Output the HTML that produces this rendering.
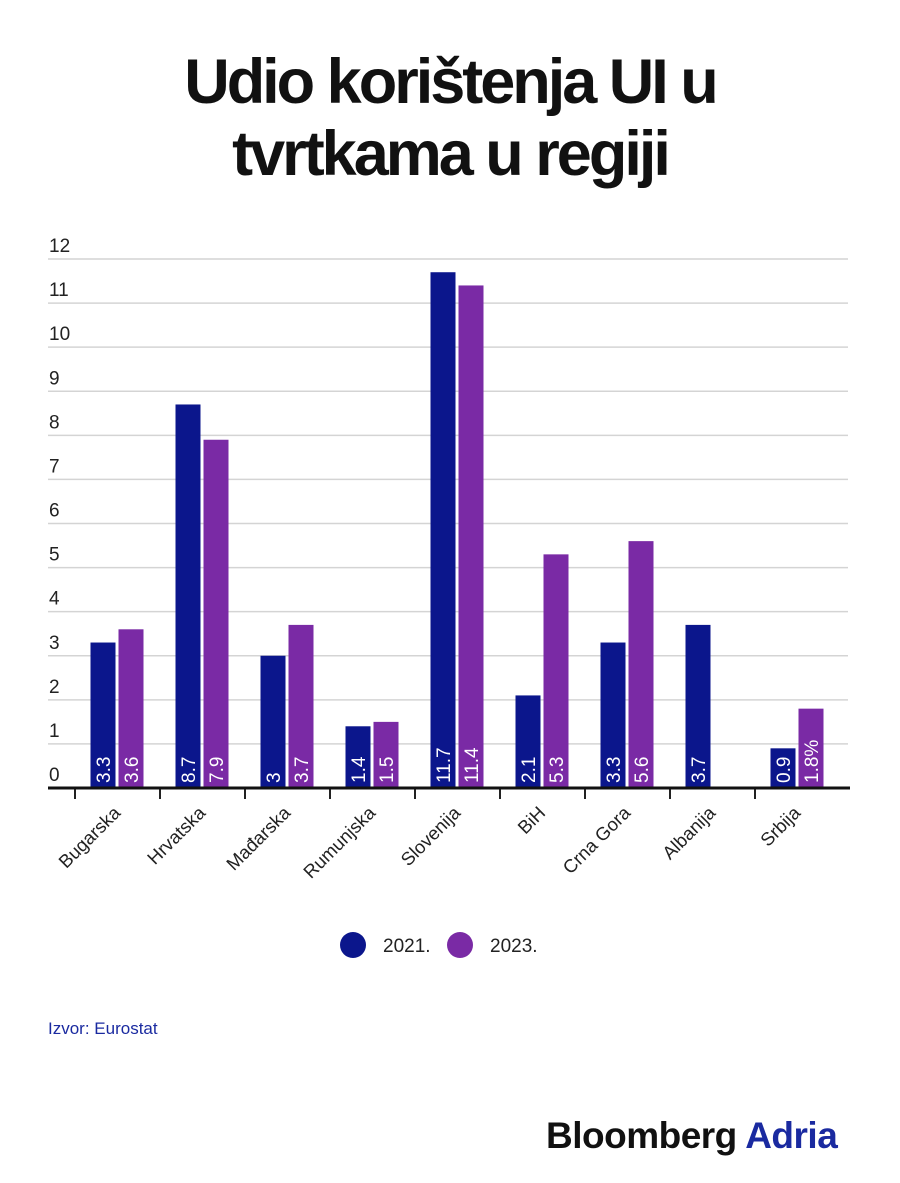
<!DOCTYPE html>
<html><head><meta charset="utf-8"><style>
body{margin:0;background:#fff;width:900px;height:1183px;overflow:hidden;font-family:"Liberation Sans",sans-serif}
h1{position:absolute;left:0;width:900px;top:46px;margin:0;text-align:center;font-size:63px;line-height:72px;font-weight:bold;letter-spacing:-3px;color:#111}
</style></head><body>
<h1>Udio korištenja UI u<br>tvrtkama u regiji</h1>
<svg id="chart" width="900" height="1183" style="position:absolute;left:0;top:0"></svg>
<script>
const categories=["Bugarska","Hrvatska","Mađarska","Rumunjska","Slovenija","BiH","Crna Gora","Albanija","Srbija"];
const values2021=[3.3,8.7,3,1.4,11.7,2.1,3.3,3.7,0.9];
const values2023=[3.6,7.9,3.7,1.5,11.4,5.3,5.6,null,1.8];
const labels2021=["3.3","8.7","3","1.4","11.7","2.1","3.3","3.7","0.9"];
const labels2023=["3.6","7.9","3.7","1.5","11.4","5.3","5.6","","1.8%"];
const yTicks=[0,1,2,3,4,5,6,7,8,9,10,11,12];
const seriesNames=["2021.","2023."];
const C1="#0b168c",C2="#7a2aa5";
const svg=document.getElementById('chart');const NS="http://www.w3.org/2000/svg";
const y0=788,yTop=259,yMax=12;
const y=v=>y0-(v/yMax)*(y0-yTop);
const x0=75,step=85;
const xc=i=>x0+step*(i+0.5);
function mk(t,a,txt){const e=document.createElementNS(NS,t);for(const k in a)e.setAttribute(k,a[k]);if(txt!==undefined)e.textContent=txt;svg.appendChild(e);return e;}
yTicks.forEach(t=>{
 if(t>0){const g=mk('line',{x1:48,x2:848,y1:y(t),y2:y(t),stroke:'#d4d4d4','stroke-width':1.5});
 
 }
 const l=mk('text',{x:49,y:y(t)-7,'font-size':19,fill:'#222'},String(t));
 
 
});
categories.forEach((c,i)=>{
 const cx=xc(i);
 [[values2021,labels2021,C1,-27],[values2023,labels2023,C2,1]].forEach(([vals,labs,col,off],s)=>{
  const v=vals[i];if(v===null)return;
  const r=mk('rect',{x:cx+off,y:y(v),width:25,height:y0-y(v),fill:col});
  
  
  const tx=cx+off+12.5+7,ty=y0-5;
  const t=mk('text',{x:tx,y:ty,transform:`rotate(-90 ${tx} ${ty})`,'font-size':19,fill:'#fff'},labs[i]);
  
  
 });
 const tk=mk('line',{x1:x0+step*i,x2:x0+step*i,y1:y0,y2:y0+11,stroke:'#222','stroke-width':2});
 
 
 const lx=cx+4,ly=y0+26;
 const cl=mk('text',{x:lx,y:ly,transform:`rotate(-45 ${lx} ${ly})`,'text-anchor':'end','font-size':18.5,fill:'#222'},c);
 
 
});
const ax=mk('line',{x1:48,x2:850,y1:y0,y2:y0,stroke:'#111','stroke-width':3});


[[353,C1,seriesNames[0],383],[460,C2,seriesNames[1],490]].forEach(([cx,col,txt,tx])=>{
 const c=mk('circle',{cx:cx,cy:945,r:13,fill:col});
 
 
 const t=mk('text',{x:tx,y:952,'font-size':19,fill:'#222'},txt);
 
 
});
const src=mk('text',{x:48,y:1034,'font-size':17,fill:'#1a2aa0'},'Izvor: Eurostat');


const logo=mk('text',{x:546,y:1148,'font-size':37,'font-weight':'bold',fill:'#111','letter-spacing':-0.5},'Bloomberg ');


const ts=document.createElementNS(NS,'tspan');ts.setAttribute('fill','#1a2aa0');ts.textContent='Adria';logo.appendChild(ts);
</script>
</body></html>
